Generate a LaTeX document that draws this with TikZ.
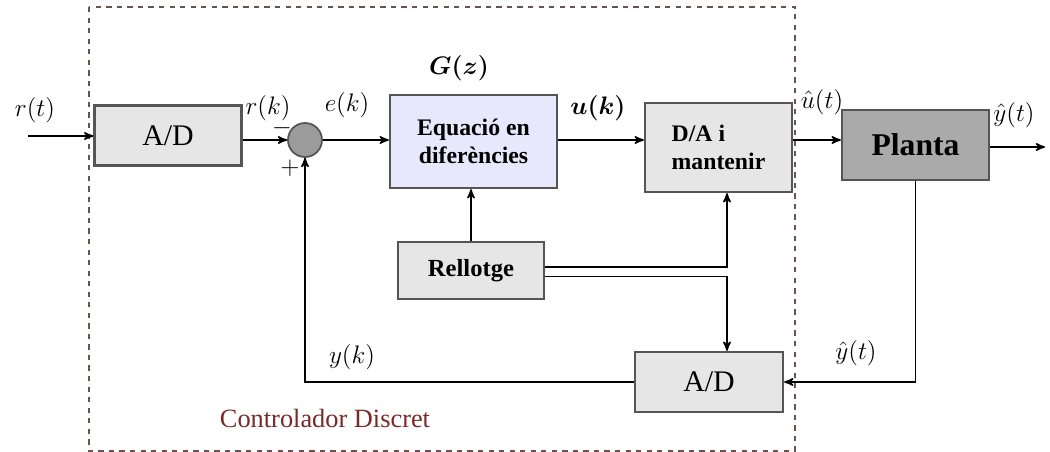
\documentclass[tikz,border=0pt]{standalone}
\usepackage{amsmath}
\usepackage{bm}
\usepackage{xcolor}
\usepackage{fontspec}
\setmainfont{Liberation Serif}
\usetikzlibrary{arrows}

\definecolor{boxgray}{RGB}{230,230,230}
\definecolor{plantgray}{RGB}{170,170,170}
\definecolor{sumgray}{RGB}{155,155,155}
\definecolor{lavender}{RGB}{232,232,252}
\definecolor{edgegray}{RGB}{85,85,85}
\definecolor{darkred}{RGB}{122,40,40}
\definecolor{dashred}{RGB}{110,80,80}

\begin{document}
\begin{tikzpicture}[->,>=stealth',line width=0.9pt,
                block/.style={rectangle,draw=edgegray,line width=1.3pt,fill=boxgray,inner sep=0pt},
                sum node/.style={circle,draw=edgegray,line width=1pt,fill=sumgray,minimum size=0.68cm,inner sep=0pt},
                sig/.style={font=\fontsize{14}{16}\selectfont,inner sep=1pt}]
  \useasboundingbox (0,0) rectangle (21,-9.04);
  \draw[-,dashed,dashred,line width=1pt] (1.78,-0.14) rectangle (15.90,-9.02);

  \node[block,minimum width=2.94cm,minimum height=1.2cm,font=\fontsize{17}{19}\selectfont] (ad1) at (3.36,-2.71) {A/D};
  \node[sum node] (sum) at (6.10,-2.80) {};
  \node[block,fill=lavender,minimum width=3.34cm,minimum height=1.86cm,align=center,
        font=\fontsize{13.5}{16}\selectfont\bfseries] (gz) at (9.47,-2.83) {Equació en\\diferències};
  \node[block,minimum width=2.94cm,minimum height=1.78cm,align=left,
        font=\fontsize{13.5}{16}\selectfont\bfseries] (da) at (14.37,-2.95) {D/A i\\mantenir};
  \node[block,fill=plantgray,minimum width=2.94cm,minimum height=1.4cm,
        font=\fontsize{18}{20}\selectfont\bfseries] (planta) at (18.31,-2.90) {Planta};
  \node[block,minimum width=2.92cm,minimum height=1.14cm,
        font=\fontsize{14}{16}\selectfont\bfseries] (rell) at (9.42,-5.41) {Rellotge};
  \node[block,minimum width=2.96cm,minimum height=1.2cm,font=\fontsize{17}{19}\selectfont] (ad2) at (14.18,-7.64) {A/D};

  \coordinate (rin) at (0.56,-2.72);
  \coordinate (yout) at (20.90,-2.94);
  \coordinate (tap) at (14.54,0);

  \draw (rin) -- (rin -| ad1.west);
  \draw (ad1.east |- sum) -- (sum.west);
  \draw (sum.east) -- (gz.west |- sum);
  \draw (gz.east |- sum) -- (da.west |- sum);
  \draw (da.east |- sum) -- (planta.west |- sum);
  \draw (planta.east |- yout) -- (yout);
  \draw (planta.south) -- (planta.south |- ad2.east) -- (ad2.east);
  \draw (ad2.west) -| (sum.south);
  \draw (rell.north) -- (rell.north |- gz.south);
  \draw ([yshift=2pt]rell.east) -- ([yshift=2pt]rell.east -| tap) -- (tap |- da.south);
  \draw ([yshift=-3.5pt]rell.east) -- ([yshift=-3.5pt]rell.east -| tap) -- (tap |- ad2.north);

  \node[sig] (lrt) at (0.70,-2.20) {$r(t)$};
  \node[sig] (lrk) at (5.36,-2.16) {$r(k)$};
  \node[sig] (lek) at (6.94,-2.10) {$e(k)$};
  \node[sig] (lgz) at (9.18,-1.36) {$\bm{G(z)}$};
  \node[sig] (luk) at (11.96,-2.16) {$\bm{u(k)}$};
  \node[sig] (lut) at (16.44,-2.04) {$\hat{u}(t)$};
  \node[sig] (lyt) at (20.28,-2.30) {$\hat{y}(t)$};
  \node[sig] (lyk) at (7.04,-7.14) {$y(k)$};
  \node[sig] (lyt2) at (17.12,-7.06) {$\hat{y}(t)$};
  \node[sig] (minus) at (5.64,-2.56) {$-$};
  \node[sig] (plus) at (5.80,-3.36) {$+$};
  \node[font=\fontsize{15}{17}\selectfont,text=darkred] (ctrl) at (6.5,-8.36) {Controlador Discret};
\end{tikzpicture}
\end{document}
